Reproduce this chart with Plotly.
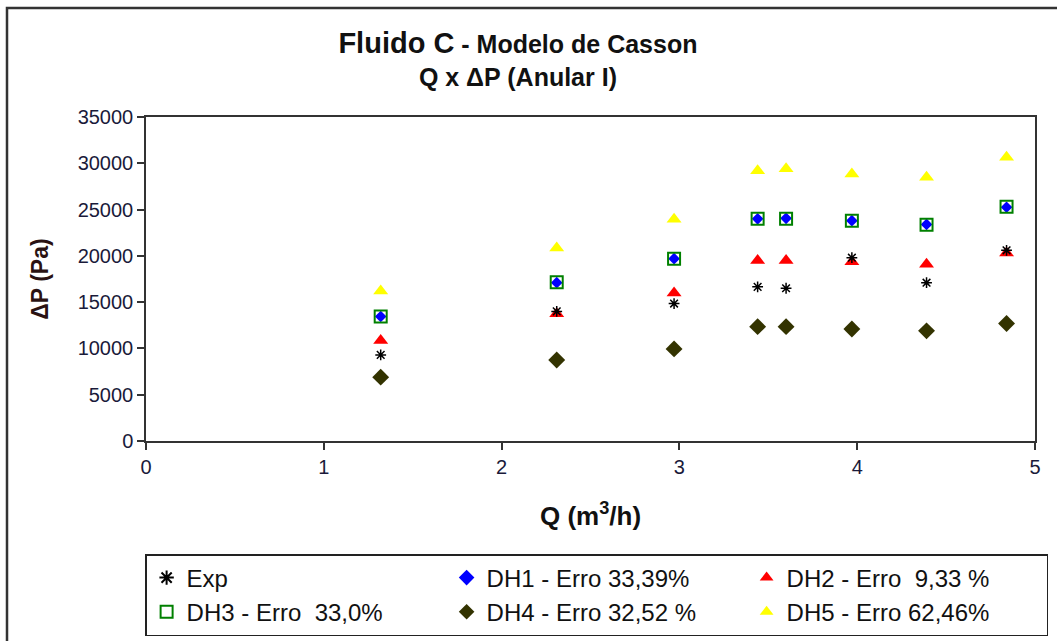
import plotly.graph_objects as go

# Data
q = [1.32, 2.31, 2.97, 3.44, 3.60, 3.97, 4.39, 4.84]
exp_dp = [9300, 14000, 14850, 16650, 16500, 19800, 17100, 20600]
dh1_dp = [13450, 17100, 19700, 24000, 24050, 23800, 23400, 25250]
dh2_dp = [10850, 13750, 16000, 19500, 19500, 19350, 19100, 20300]
dh3_dp = [13450, 17150, 19700, 24000, 24000, 23800, 23350, 25300]
dh4_dp = [6900, 8750, 9950, 12350, 12350, 12100, 11900, 12700]
dh5_dp = [16200, 20850, 23950, 29200, 29400, 28850, 28500, 30650]

names = {
    "exp": "Exp",
    "dh1": "DH1 - Erro 33,39%",
    "dh2": "DH2 - Erro \u00a09,33 %",
    "dh3": "DH3 - Erro \u00a033,0%",
    "dh4": "DH4 - Erro 32,52 %",
    "dh5": "DH5 - Erro 62,46%",
}

FONT = "Arial, 'Liberation Sans', sans-serif"

fig = go.Figure()

fig.add_trace(go.Scatter(x=q, y=dh5_dp, mode="markers", name=names["dh5"], legendrank=6,
                         marker=dict(symbol="triangle-up", size=13, color="#FFFF00")))
fig.add_trace(go.Scatter(x=q, y=dh4_dp, mode="markers", name=names["dh4"], legendrank=5,
                         marker=dict(symbol="diamond", size=13, color="#333300")))
fig.add_trace(go.Scatter(x=q, y=dh1_dp, mode="markers", name=names["dh1"], legendrank=2,
                         marker=dict(symbol="diamond", size=9, color="#0000FF")))
fig.add_trace(go.Scatter(x=q, y=dh3_dp, mode="markers", name=names["dh3"], legendrank=4,
                         marker=dict(symbol="square-open", size=12, color="#008000",
                                     line=dict(width=2, color="#008000"))))
fig.add_trace(go.Scatter(x=q, y=dh2_dp, mode="markers", name=names["dh2"], legendrank=3,
                         marker=dict(symbol="triangle-up", size=13, color="#FF0000")))
fig.add_trace(go.Scatter(x=q, y=exp_dp, mode="markers", name=names["exp"], legendrank=1,
                         marker=dict(symbol="asterisk-open", size=9, color="#000000",
                                     line=dict(width=1.5, color="#000000"))))

fig.update_layout(
    width=1057, height=641,
    margin=dict(l=146, r=22, t=117, b=200, autoexpand=False),
    paper_bgcolor="white", plot_bgcolor="white",
    font=dict(family=FONT, color="#111111"),
    title=dict(
        text="<b><span style='font-size:29px'>Fluido C</span> - Modelo de Casson<br>Q x \u0394P (Anular I)</b>",
        x=0.49, xanchor="center", xref="container",
        y=1 - 53 / 641, yanchor="top", yref="container",
        font=dict(size=25, color="#111111", family=FONT),
    ),
    xaxis=dict(
        range=[0, 5], dtick=1, tick0=0, automargin=False,
        showgrid=False, zeroline=False,
        showline=True, linecolor="#333333", linewidth=1.5, mirror=True,
        ticks="outside", ticklen=7, tickcolor="#333333", tickwidth=1.5,
        tickfont=dict(size=20, color="#1a1a3a"),
        title=dict(text="<b>Q (m<sup>3</sup>/h)</b>", font=dict(size=26, color="#111111"), standoff=30),
    ),
    yaxis=dict(
        range=[0, 35000], dtick=5000, tick0=0, tickformat="d", automargin=False,
        showgrid=False, zeroline=False,
        showline=True, linecolor="#333333", linewidth=1.5, mirror=True,
        ticks="outside", ticklen=7, tickcolor="#333333", tickwidth=1.5,
        tickfont=dict(size=20, color="#1a1a3a"),
        title=dict(text="<b>\u0394P (Pa)</b>", font=dict(size=23, color="#2a1212"), standoff=23),
    ),
    legend=dict(
        orientation="h",
        x=-0.001, xanchor="left", xref="paper",
        y=-(554 - 441) / 324, yanchor="top", yref="paper",
        bordercolor="#222222", borderwidth=1.5, bgcolor="white",
        font=dict(size=24, color="#111111"),
        entrywidth=255, entrywidthmode="pixels",
        itemsizing="constant",
        tracegroupgap=0,
    ),
    showlegend=True,
)

# Outer chart frame (extends past right and bottom edges, as in the reference)
fig.add_shape(type="rect", xref="paper", yref="paper",
              x0=(7 - 146) / 889, x1=(1070 - 146) / 889,
              y0=(441 - 660) / 324, y1=(441 - 8) / 324,
              line=dict(color="#333333", width=2.5), fillcolor="rgba(0,0,0,0)", layer="below")

fig.write_html("out.html", post_script="document.body.style.margin='0';",
               config={"displayModeBar": False})
